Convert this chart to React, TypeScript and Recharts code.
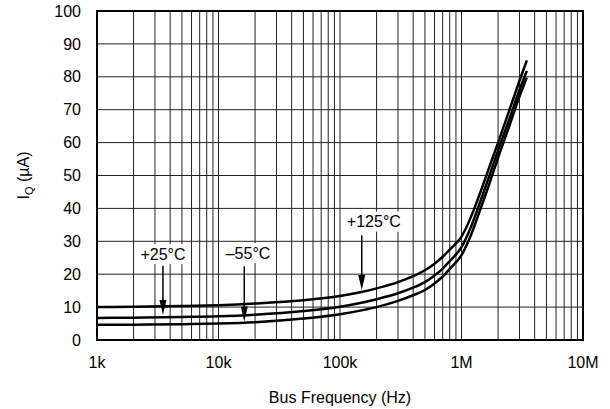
import {
  LineChart,
  Line,
  XAxis,
  YAxis,
  CartesianGrid,
  ReferenceArea,
  ReferenceLine,
  ReferenceDot,
} from 'recharts'

const FONT = '"Liberation Sans", Arial, Helvetica, sans-serif'

// Bus frequency (Hz) sample points
const freqs = [
  1000, 2000, 5000, 10000, 20000, 50000, 100000, 150000, 200000, 300000, 400000, 500000,
  600000, 700000, 800000, 1000000, 1200000, 1400000, 1700000, 2000000, 2500000, 3000000, 3450000,
]

// Quiescent current (uA)
const iq125 = [
  10.0, 10.1, 10.3, 10.6, 11.1, 12.1, 13.4, 14.6, 15.7, 17.6, 19.4, 21.2,
  23.2, 25.3, 27.5, 31.4, 37.5, 44.0, 52.7, 60.0, 70.3, 78.8, 85.0,
]
const iq25 = [
  6.7, 6.8, 7.0, 7.2, 7.7, 8.8, 10.1, 11.3, 12.4, 14.2, 15.9, 17.6,
  19.6, 21.7, 24.0, 28.2, 34.5, 41.2, 50.0, 57.6, 67.6, 76.0, 81.8,
]
const iqMinus55 = [
  4.6, 4.65, 4.8, 5.0, 5.4, 6.5, 7.8, 9.0, 10.0, 11.9, 13.6, 15.2,
  17.2, 19.3, 21.6, 25.8, 32.0, 38.8, 47.6, 55.4, 65.5, 74.0, 79.8,
]

const majorTicks = [1000, 10000, 100000, 1000000, 10000000]
const majorLabels = ['1k', '10k', '100k', '1M', '10M']
const minorSteps = [2, 3, 4, 5, 6, 7, 8, 9]
const yTicks = [0, 10, 20, 30, 40, 50, 60, 70, 80, 90, 100]

// annotation labels: text, label position, arrow x, arrow top, arrow tip
const notes = [
  { text: '+25°C', lx: 3490, ly: 26.1, ax: 3490, top: 22.6, tip: 7.6 },
  { text: '\u201355°C', lx: 17500, ly: 26.4, ax: 16300, top: 22.4, tip: 5.6 },
  { text: '+125°C', lx: 190000, ly: 36.0, ax: 151000, top: 31.8, tip: 15.2 },
]

const xTicks: number[] = []
majorTicks.forEach((m, i) => {
  xTicks.push(m)
  if (i < majorTicks.length - 1) minorSteps.forEach((s) => xTicks.push(m * s))
})

const chartData = freqs.map((f, i) => ({
  freq: f,
  t125: iq125[i],
  t25: iq25[i],
  tm55: iqMinus55[i],
}))

function formatX(v: number) {
  const idx = majorTicks.indexOf(v)
  return idx >= 0 ? majorLabels[idx] : ''
}

function Arrow(props: any) {
  const { x1, y1, x2, y2 } = props
  return (
    <g>
      <line x1={x1} y1={y1} x2={x2} y2={y2 - 12} stroke="#000" strokeWidth={1.5} />
      <polygon points={`${x2 - 3.5},${y2 - 15} ${x2 + 3.5},${y2 - 15} ${x2},${y2}`} fill="#000" />
    </g>
  )
}

function NoteLabel(text: string) {
  return (props: any) => {
    const { cx, cy } = props
    const w = text.length * 9 + 6
    return (
      <g>
        <rect x={cx - w / 2} y={cy - 10} width={w} height={20} fill="#fff" />
        <text x={cx} y={cy} dy="0.35em" textAnchor="middle" fontSize={16} fontFamily={FONT} fill="#000">
          {text}
        </text>
      </g>
    )
  }
}

function YTitle(props: any) {
  const { viewBox } = props
  const x = viewBox.x - 14
  const y = viewBox.y + viewBox.height / 2
  return (
    <text
      x={x}
      y={y}
      dy="0.35em"
      textAnchor="middle"
      transform={`rotate(-90, ${x}, ${y})`}
      fontSize={16}
      fontFamily={FONT}
      fill="#000"
    >
      I
      <tspan fontSize={11} dy={4}>Q</tspan>
      <tspan dy={-4}> (µA)</tspan>
    </text>
  )
}

export default function App() {
  return (
    <div style={{ position: 'fixed', left: 0, top: 0, width: 610, height: 409, background: '#fff', fontFamily: FONT }}>
      <LineChart width={610} height={409} data={chartData} margin={{ top: 11, right: 27, left: 37, bottom: 0 }}>
        <CartesianGrid stroke="#222" strokeWidth={1} />
        <XAxis
          dataKey="freq"
          type="number"
          scale="log"
          domain={[1000, 10000000]}
          ticks={xTicks}
          interval={0}
          tickFormatter={formatX}
          tickLine={false}
          axisLine={false}
          tickSize={0}
          tickMargin={17}
          height={69}
          tick={{ fill: '#000', fontSize: 16, fontFamily: FONT }}
          label={{
            value: 'Bus Frequency (Hz)',
            position: 'insideBottom',
            offset: 6,
            fill: '#000',
            fontSize: 16,
            fontFamily: FONT,
          }}
        />
        <YAxis
          type="number"
          domain={[0, 100]}
          ticks={yTicks}
          interval={0}
          tickLine={false}
          axisLine={false}
          tickSize={0}
          tickMargin={16}
          width={60}
          tick={{ fill: '#000', fontSize: 16, fontFamily: FONT }}
          label={{ content: YTitle }}
        />
        <ReferenceArea x1={1000} x2={10000000} y1={0} y2={100} fill="none" stroke="#000" strokeWidth={2} ifOverflow="visible" />
        <Line type="monotone" dataKey="t125" stroke="#000" strokeWidth={2.5} dot={false} isAnimationActive={false} />
        <Line type="monotone" dataKey="t25" stroke="#000" strokeWidth={2.5} dot={false} isAnimationActive={false} />
        <Line type="monotone" dataKey="tm55" stroke="#000" strokeWidth={2.5} dot={false} isAnimationActive={false} />
        {notes.map((n) => (
          <ReferenceLine
            key={n.text + 'a'}
            segment={[{ x: n.ax, y: n.top }, { x: n.ax, y: n.tip }]}
            shape={Arrow}
          />
        ))}
        {notes.map((n) => (
          <ReferenceDot key={n.text} x={n.lx} y={n.ly} r={1} shape={NoteLabel(n.text)} />
        ))}
      </LineChart>
    </div>
  )
}
